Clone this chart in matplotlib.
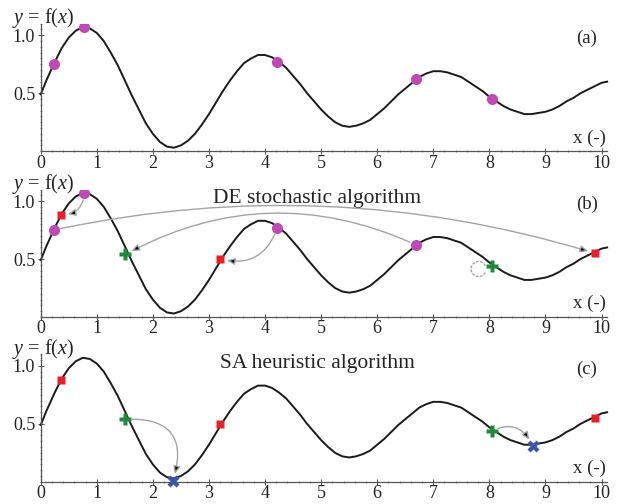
"""
    Three stacked panels: the test function, a DE step and an SA step
"""
import matplotlib
matplotlib.use('Agg')
import matplotlib.pyplot as plt
from matplotlib.patches import FancyArrowPatch, Arc
from matplotlib.transforms import ScaledTranslation
from matplotlib.ticker import MultipleLocator

# curve y = f(x)
curve_x = [0, 0.05, 0.1, 0.175, 0.25, 0.375, 0.5, 0.625, 0.75, 0.875,
           1.0, 1.125, 1.25, 1.375, 1.5, 1.625, 1.75, 1.875,
           2.0, 2.125, 2.25, 2.375, 2.5, 2.625, 2.75, 2.875,
           3.0, 3.125, 3.25, 3.375, 3.5, 3.625, 3.75, 3.875,
           4.0, 4.125, 4.25, 4.375, 4.5, 4.625, 4.75, 4.875,
           5.0, 5.125, 5.25, 5.375, 5.5, 5.625, 5.75, 5.875,
           6.0, 6.125, 6.25, 6.375, 6.5, 6.625, 6.75, 6.875,
           7.0, 7.125, 7.25, 7.375, 7.5, 7.625, 7.75, 7.875,
           8.0, 8.125, 8.25, 8.375, 8.5, 8.625, 8.75, 8.875,
           9.0, 9.125, 9.25, 9.375, 9.5, 9.625, 9.75, 9.875,
           10.0, 10.1]
curve_y = [0.49, 0.55, 0.61, 0.69, 0.77, 0.89, 0.98, 1.04, 1.07, 1.06,
           1.02, 0.95, 0.85, 0.74, 0.61, 0.48, 0.36, 0.24,
           0.15, 0.08, 0.04, 0.03, 0.05, 0.09, 0.15, 0.23,
           0.32, 0.42, 0.52, 0.61, 0.69, 0.76, 0.80, 0.83,
           0.83, 0.81, 0.77, 0.72, 0.65, 0.58, 0.50, 0.43,
           0.36, 0.30, 0.25, 0.22, 0.21, 0.22, 0.24, 0.27,
           0.32, 0.37, 0.43, 0.49, 0.54, 0.59, 0.64, 0.67,
           0.69, 0.69, 0.68, 0.66, 0.64, 0.60, 0.56, 0.52,
           0.47, 0.43, 0.39, 0.36, 0.34, 0.32, 0.32, 0.33,
           0.34, 0.36, 0.39, 0.43, 0.46, 0.50, 0.53, 0.56,
           0.59, 0.60]

# population (purple circles)
pop_x = [0.23, 0.78, 4.22, 6.70, 8.04]
pop_y = [0.75, 1.07, 0.77, 0.62, 0.45]
# new points (red squares) and green pluses
sq_x = [0.36, 3.20, 9.88]
sq_y = [0.88, 0.50, 0.55]
plus_x = [1.51, 8.04]
plus_y = [0.54, 0.44]
# SA end points (blue crosses)
cross_x = [2.36, 8.77]
cross_y = [0.01, 0.31]

# arrows: (start, end, curvature)
de_arrows = [((pop_x[1], pop_y[1]), (sq_x[0], sq_y[0]), -0.45),
             ((pop_x[0], pop_y[0]), (sq_x[2], sq_y[2]), -0.13),
             ((pop_x[3], pop_y[3]), (plus_x[0], plus_y[0]), 0.25),
             ((pop_x[2], pop_y[2]), (sq_x[1], sq_y[1]), -0.45)]
sa_arrows = [((plus_x[0], plus_y[0]), (cross_x[0], cross_y[0]), -0.7),
             ((plus_x[1], plus_y[1]), (cross_x[1], cross_y[1]), -0.5)]

x_ticks = [0, 1, 2, 3, 4, 5, 6, 7, 8, 9, 10]
y_ticks = [0.5, 1.0]
tags = ['(a)', '(b)', '(c)']
titles = ['', 'DE stochastic algorithm', 'SA heuristic algorithm']

PURPLE = '#c04ab4'
RED = '#e8202a'
GREEN = '#1f8a3b'
BLUE = '#3b56a8'
GRAY = '#a3a3a3'
INK = '#222222'

plt.rcParams['font.family'] = ['Liberation Serif', 'DejaVu Serif']
plt.rcParams['mathtext.fontset'] = 'custom'
plt.rcParams['mathtext.rm'] = 'Liberation Serif'
plt.rcParams['mathtext.it'] = 'Liberation Serif:italic'


def setup(ax, tag, title):
    ax.set_xlim(0, 10.1)
    ax.set_ylim(0, 1.1)
    for s in ['top', 'right']:
        ax.spines[s].set_visible(False)
    for s in ['left', 'bottom']:
        ax.spines[s].set_color('#555555')
        ax.spines[s].set_linewidth(0.9)
    ax.set_xticks(x_ticks)
    ax.set_yticks(y_ticks)
    ax.set_yticklabels(['0.5', '1.0'])
    ax.xaxis.set_minor_locator(MultipleLocator(0.2))
    ax.yaxis.set_minor_locator(MultipleLocator(0.05))
    ax.tick_params(which='major', direction='inout', length=4, width=0.8,
                   color='#555555', labelsize=13, labelcolor=INK, pad=0.5)
    ax.tick_params(which='minor', direction='inout', length=2, width=0.6,
                   color='#777777')
    ax.tick_params(axis='y', pad=2)
    ax.patch.set_alpha(0)
    ax.plot(curve_x, curve_y, color='#1a1a1a', lw=1.4, zorder=2,
            solid_joinstyle='round', clip_on=False)
    ax.text(-0.51, 1.145, '$y$ = f($x$)', fontsize=14.5, color=INK,
            ha='left', va='center', clip_on=False)
    ax.text(10.07, 0.04, 'x (-)', fontsize=13.5, color=INK,
            ha='right', va='bottom')
    ax.text(9.74, 0.97, tag, fontsize=13.5, color=INK,
            ha='center', va='center')
    if title:
        ax.text(4.93, 1.02, title, fontsize=15.5, color=INK,
                ha='center', va='center')


def arrow(ax, a, b, rad):
    p = FancyArrowPatch(a, b, connectionstyle=f'arc3,rad={rad}',
                        arrowstyle='-|>,head_length=0.5,head_width=0.22',
                        mutation_scale=9, edgecolor=GRAY, facecolor='black',
                        lw=1.0, shrinkA=5, shrinkB=5, zorder=3)
    ax.add_patch(p)


fig = plt.figure(figsize=(6.17, 5.04), dpi=100)
bottoms = [0.700, 0.371, 0.044]
axes = [fig.add_axes([0.066, b, 0.918, 0.253]) for b in bottoms]

for ax, tag, title in zip(axes, tags, titles):
    setup(ax, tag, title)

# (a) initial population
ax = axes[0]
ax.plot(pop_x, pop_y, 'o', color=PURPLE, ms=8, mec='none', zorder=4)

# (b) DE step
ax = axes[1]
for a, b, rad in de_arrows:
    arrow(ax, a, b, rad)
ax.plot(pop_x[:4], pop_y[:4], 'o', color=PURPLE, ms=8, mec='none', zorder=4)
ax.plot(sq_x, sq_y, 's', color=RED, ms=6, mec='none', zorder=4)
ax.plot(plus_x, plus_y, 'P', color=GREEN, ms=9, mec='none', zorder=4)
# self loop next to the green plus at x = 8
loop_t = fig.dpi_scale_trans + ScaledTranslation(plus_x[1], plus_y[1], ax.transData)
ax.add_patch(Arc((-0.13, -0.03), 0.15, 0.15, theta1=25, theta2=345,
                 transform=loop_t, color=GRAY, lw=1.0, ls=(0, (2, 1)), zorder=3))

# (c) SA step
ax = axes[2]
for a, b, rad in sa_arrows:
    arrow(ax, a, b, rad)
ax.plot(sq_x, sq_y, 's', color=RED, ms=6, mec='none', zorder=4)
ax.plot(plus_x, plus_y, 'P', color=GREEN, ms=9, mec='none', zorder=4)
ax.plot(cross_x, cross_y, 'X', color=BLUE, ms=9, mec='none', zorder=4,
        clip_on=False)

fig.savefig('out.png', dpi=100)
